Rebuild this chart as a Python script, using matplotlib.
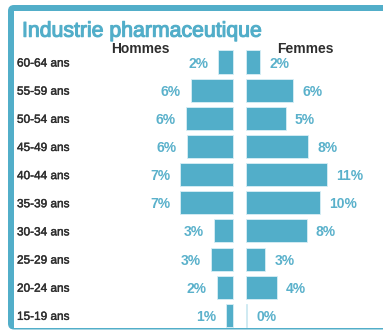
import matplotlib.pyplot as plt
import matplotlib.patheffects as pe
from matplotlib.patches import FancyBboxPatch, Rectangle
from matplotlib.transforms import blended_transform_factory

plt.rcParams['font.family'] = ['Liberation Sans', 'DejaVu Sans']

# tranches d'age, du haut vers le bas
tranches = ['60-64 ans', '55-59 ans', '50-54 ans', '45-49 ans', '40-44 ans',
            '35-39 ans', '30-34 ans', '25-29 ans', '20-24 ans', '15-19 ans']
hommes = [2.0, 5.7, 6.4, 6.2, 7.1, 7.1, 2.6, 3.0, 2.2, 0.9]
femmes = [1.9, 6.4, 5.4, 8.4, 11.0, 10.0, 8.2, 2.6, 4.2, 0.2]

bleu = '#52aec9'
bleu_txt = '#5ab1cb'
gris = '#2e2e2e'

W, H = 383, 330
fig = plt.figure(figsize=(W / 100, H / 100), dpi=100)

# cadre en pixels
bg = fig.add_axes([0, 0, 1, 1], zorder=0)
bg.set_xlim(0, W)
bg.set_ylim(H, 0)
bg.axis('off')
bg.add_patch(FancyBboxPatch((8, 5), 420, 324.5, boxstyle='round,pad=0,rounding_size=6',
                            fc=bleu, ec='none'))
bg.add_patch(Rectangle((14, 11), 420, 316.5, fc='white', ec='none'))

# pyramide
ax = fig.add_axes([0, 0, 1, 1], zorder=1)
ax.patch.set_alpha(0)
px = 7.4            # pixels par %
centre = 239.5      # pixel du milieu
ecart = 6.5 / px    # demi-ecart entre les deux cotes
ax.set_xlim(-centre / px, (W - centre) / px)
pas = 28.15
ax.set_ylim((H - 62) / pas, -62 / pas)
ax.axis('off')

y = list(range(len(tranches)))
ax.barh(y, [-v for v in hommes], left=-ecart, height=0.82, color=bleu,
        edgecolor='#d8eef5', linewidth=0.6)
ax.barh(y, femmes, left=ecart, height=0.82, color=bleu,
        edgecolor='#d8eef5', linewidth=0.6)

off = 10 / px
for i, (h, f) in enumerate(zip(hommes, femmes)):
    ax.text(-ecart - h - off, i, f'{h:.0f}%', ha='right', va='center_baseline',
            color=bleu_txt, fontsize=10, fontweight='bold')
    ax.text(ecart + f + off * 0.9, i, f'{f:.0f}%', ha='left', va='center_baseline',
            color=bleu_txt, fontsize=10, fontweight='bold')

epais = [pe.withStroke(linewidth=0.3, foreground=gris)]
tr = blended_transform_factory(fig.transFigure, ax.transData)
for i, t in enumerate(tranches):
    ax.text(17 / W, i, t, transform=tr, ha='left', va='center_baseline',
            color=gris, fontsize=8.5, path_effects=epais)

fig.text(22 / W, 1 - 36.7 / H, 'Industrie pharmaceutique', ha='left', va='baseline',
         color=bleu, fontsize=15.3,
         path_effects=[pe.withStroke(linewidth=0.8, foreground=bleu)])
fig.text(140 / W, 1 - 53 / H, 'Hommes', ha='center', va='baseline',
         color=gris, fontsize=10, fontweight='bold')
fig.text(305 / W, 1 - 53 / H, 'Femmes', ha='center', va='baseline',
         color=gris, fontsize=10, fontweight='bold')

fig.savefig('out.png', dpi=100)
